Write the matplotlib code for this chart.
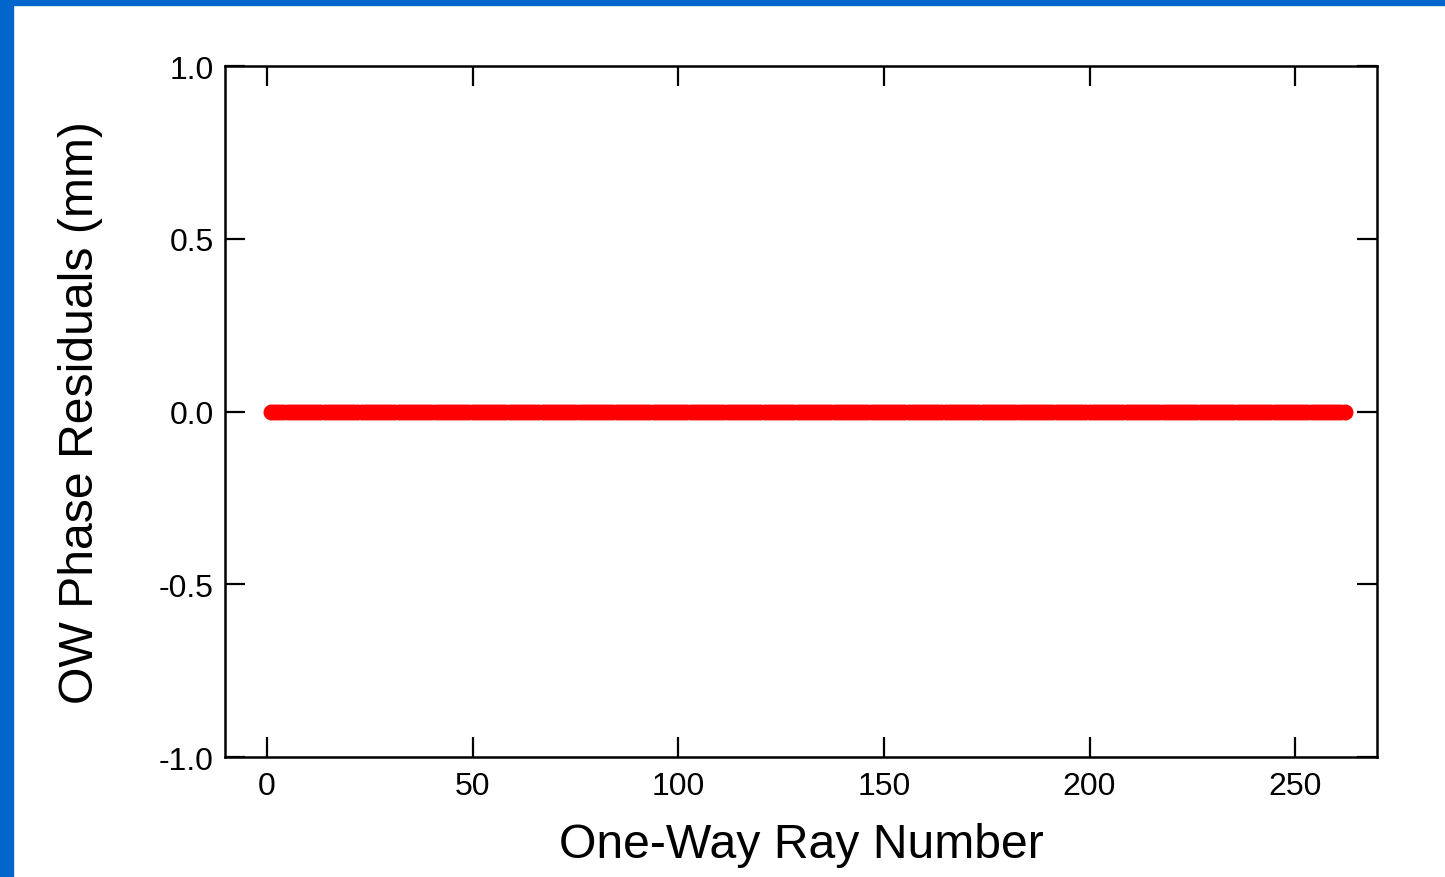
import matplotlib
matplotlib.use('Agg')
import matplotlib.pyplot as plt
from matplotlib.patches import Rectangle

plt.rcParams['font.family'] = ['Liberation Sans', 'DejaVu Sans']

# one-way rays 1..262, residuals all zero
ray_number = list(range(1, 263))
residuals = [0.0] * 262

x_ticks = [0, 50, 100, 150, 200, 250]
y_ticks = [-1.0, -0.5, 0.0, 0.5, 1.0]

fig = plt.figure(figsize=(14.45, 8.78), dpi=100)
fig.patch.set_facecolor('white')

# blue frame on top and left
fig.patches.append(Rectangle((0, 1 - 6 / 878), 1, 6 / 878, transform=fig.transFigure,
                             color='#0066cc', zorder=0))
fig.patches.append(Rectangle((0, 0), 13 / 1445, 1, transform=fig.transFigure,
                             color='#0066cc', zorder=0))

ax = fig.add_axes([225 / 1445, 1 - 758 / 878, (1377 - 225) / 1445, (758 - 67) / 878])
ax.plot(ray_number, residuals, 'o', color='#ff0000', markersize=11.5, markeredgewidth=0)

ax.set_xlim(-10.2, 269.9)
ax.set_ylim(-1.0, 1.0)
ax.set_xticks(x_ticks)
ax.set_yticks(y_ticks)
ax.set_yticklabels(['%.1f' % v for v in y_ticks])

for s in ax.spines.values():
    s.set_linewidth(1.8)
ax.tick_params(direction='in', length=14.5, width=1.6, top=True, right=True,
               labelsize=23, pad=8)
ax.tick_params(axis='x', pad=10)

ax.set_xlabel('One-Way Ray Number', fontsize=34.7, labelpad=15)
ax.set_ylabel('OW Phase Residuals (mm)', fontsize=34.7, labelpad=40)

fig.savefig('out.png', dpi=100)
